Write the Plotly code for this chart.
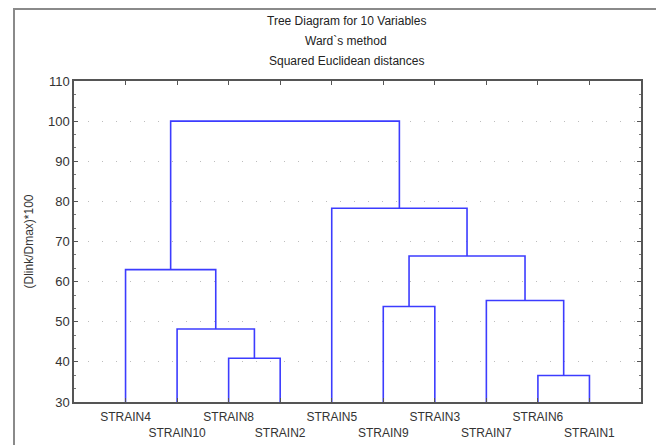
import plotly.graph_objects as go

# ---- data ----
leaves = ["STRAIN4", "STRAIN10", "STRAIN8", "STRAIN2", "STRAIN5",
          "STRAIN9", "STRAIN3", "STRAIN7", "STRAIN6", "STRAIN1"]
# merges (Ward linkage), clusters referenced as C1..C9 in merge order
merge_left = ["STRAIN6", "STRAIN8", "STRAIN10", "STRAIN9", "STRAIN7", "STRAIN4", "C4", "STRAIN5", "C6"]
merge_right = ["STRAIN1", "STRAIN2", "C2", "STRAIN3", "C1", "C3", "C5", "C7", "C8"]
merge_height = [36.6, 40.9, 48.2, 53.8, 55.3, 63.0, 66.4, 78.3, 100.0]
y_ticks = [30, 40, 50, 60, 70, 80, 90, 100, 110]
title_lines = ["Tree Diagram for 10 Variables", "Ward`s method", "Squared Euclidean distances"]
y_title = "(Dlink/Dmax)*100"

# ---- build dendrogram segments from linkage ----
pos = {name: i + 1 for i, name in enumerate(leaves)}
hgt = {name: 0.0 for name in leaves}
xs, ys = [], []
for k, (a, b, h) in enumerate(zip(merge_left, merge_right, merge_height)):
    xa, xb = pos[a], pos[b]
    xs += [xa, xa, xb, xb, None]
    ys += [hgt[a], h, h, hgt[b], None]
    cname = "C%d" % (k + 1)
    pos[cname] = (xa + xb) / 2
    hgt[cname] = h

FONT = "Liberation Sans, Arial, sans-serif"
fig = go.Figure()
fig.add_trace(go.Scatter(x=xs, y=ys, mode="lines",
                         line=dict(color="#3c3cff", width=1.6),
                         hoverinfo="skip", showlegend=False))

ticktext = [name if i % 2 == 0 else "<br>" + name for i, name in enumerate(leaves)]

# the page body adds an 8px offset; plot area in figure pixels:
px_left, px_w, px_top, px_h = 66, 567, 73, 321
px_bottom = px_top + px_h

fig.update_layout(
    width=664, height=445,
    margin=dict(l=px_left, r=664 - px_left - px_w, t=px_top, b=445 - px_bottom),
    paper_bgcolor="white", plot_bgcolor="white",
    font=dict(family=FONT, size=12, color="#333"),
    showlegend=False,
)
fig.update_xaxes(
    range=[0, 11], tickmode="array",
    tickvals=list(range(1, len(leaves) + 1)), ticktext=ticktext,
    tickfont=dict(size=12, color="#333"), tickangle=0, automargin=False,
    ticklabelstandoff=3,
    showgrid=False, zeroline=False,
    showline=True, linecolor="#555", linewidth=1.5, mirror="ticks",
    ticks="inside", ticklen=4, tickcolor="#555",
)
fig.update_yaxes(
    range=[30, 110], tickmode="array", tickvals=y_ticks, automargin=False,
    tickfont=dict(size=13, color="#333"),
    showgrid=True, gridcolor="#bdbdbd", griddash="1px,13px", gridwidth=1,
    zeroline=False,
    showline=True, linecolor="#555", linewidth=1.5, mirror="ticks",
    ticks="inside", ticklen=4, tickcolor="#555",
    minor=dict(ticks="inside", ticklen=2, dtick=10 / 3, tick0=30, tickcolor="#777", showgrid=False),
    title=dict(text=y_title, font=dict(size=12, color="#333"), standoff=12),
)

# title lines
for line, ypx in zip(title_lines, [12.7, 32.7, 53.0]):
    fig.add_annotation(text=line, xref="paper", yref="paper",
                       x=(338 - px_left) / px_w, y=(px_bottom - ypx) / px_h,
                       xanchor="center", yanchor="middle", showarrow=False,
                       font=dict(size=12, color="#222", family=FONT))

# outer frame
fig.add_shape(type="rect", xref="paper", yref="paper",
              x0=(6 - px_left) / px_w, x1=(651 - px_left) / px_w,
              y0=(px_bottom - 460) / px_h, y1=(px_bottom - 1) / px_h,
              line=dict(color="#8a8a8a", width=2), layer="below")

fig.write_html("out.html")
